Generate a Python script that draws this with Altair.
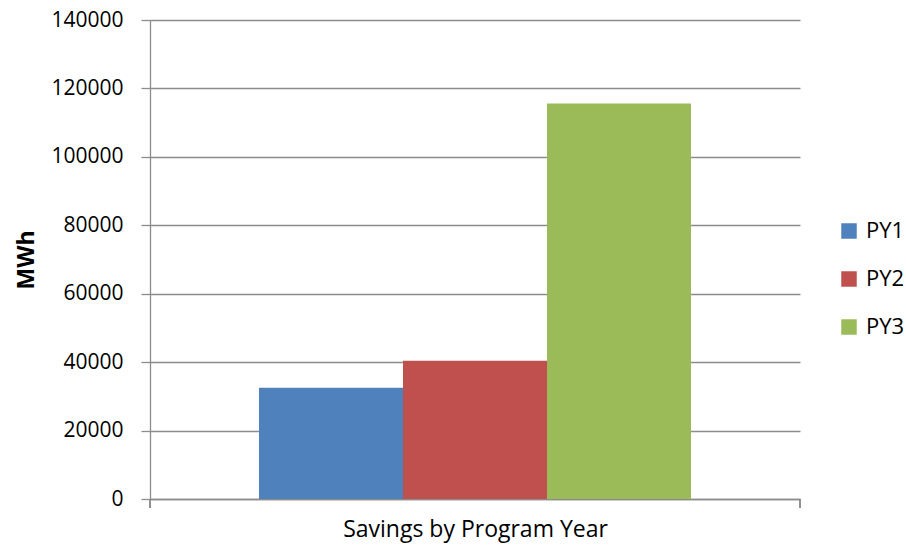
import altair as alt
import pandas as pd

categories = ["Savings by Program Year"]
series = ["PY1", "PY2", "PY3"]
values = [32500, 40400, 115600]
colors = ["#4F81BD", "#C0504D", "#9BBB59"]
y_ticks = [0, 20000, 40000, 60000, 80000, 100000, 120000, 140000]

df = pd.DataFrame({
    "category": [categories[0]] * len(series),
    "series": series,
    "value": values,
})

FONT = "Open Sans"
GRID = "#8C8C8C"

base = alt.Chart(df)

bars = base.mark_bar().encode(
    x=alt.X("category:N",
            scale=alt.Scale(paddingInner=0, paddingOuter=0.2523),
            axis=alt.Axis(title="Savings by Program Year", labels=False, ticks=False,
                          domainColor=GRID, domainWidth=1.3,
                          titleFont=FONT, titleFontSize=23, titleFontWeight="normal",
                          titleColor="#000000", titlePadding=19)),
    xOffset=alt.XOffset("series:N", scale=alt.Scale(paddingInner=0, paddingOuter=0)),
    y=alt.Y("value:Q",
            scale=alt.Scale(domain=[0, 140000], nice=False),
            axis=alt.Axis(title="MWh", values=y_ticks, format="d",
                          grid=True, gridColor=GRID, gridWidth=1.3,
                          domainColor=GRID, domainWidth=1.3,
                          tickColor=GRID, tickWidth=1.3, tickSize=9,
                          labelFont=FONT, labelFontSize=21, labelColor="#000000",
                          labelPadding=18,
                          titleFont=FONT, titleFontSize=23, titleFontWeight="bold",
                          titleColor="#000000", titlePadding=12)),
    color=alt.Color("series:N",
                    scale=alt.Scale(domain=series, range=colors),
                    legend=alt.Legend(title=None, orient="none", legendX=688, legendY=200,
                                      symbolType="square", symbolSize=240,
                                      symbolStrokeWidth=0, labelFont=FONT,
                                      labelFontSize=22, labelColor="#000000",
                                      labelOffset=6, rowPadding=26, padding=0)),
)

tick_left = base.mark_rule(color=GRID, strokeWidth=1.3).encode(
    x=alt.value(0), y=alt.datum(0), y2=alt.datum(-2630))
tick_right = base.mark_rule(color=GRID, strokeWidth=1.3).encode(
    x=alt.value(650), y=alt.datum(0), y2=alt.datum(-2630))

chart = alt.layer(bars, tick_left, tick_right).properties(
    width=650, height=479,
    background="white",
    autosize=alt.AutoSizeParams(type="none"),
    padding={"left": 150, "top": 20, "right": 106, "bottom": 51},
).configure_view(stroke=None)

chart.save("out.html", embed_options={"renderer": "svg", "actions": False})
